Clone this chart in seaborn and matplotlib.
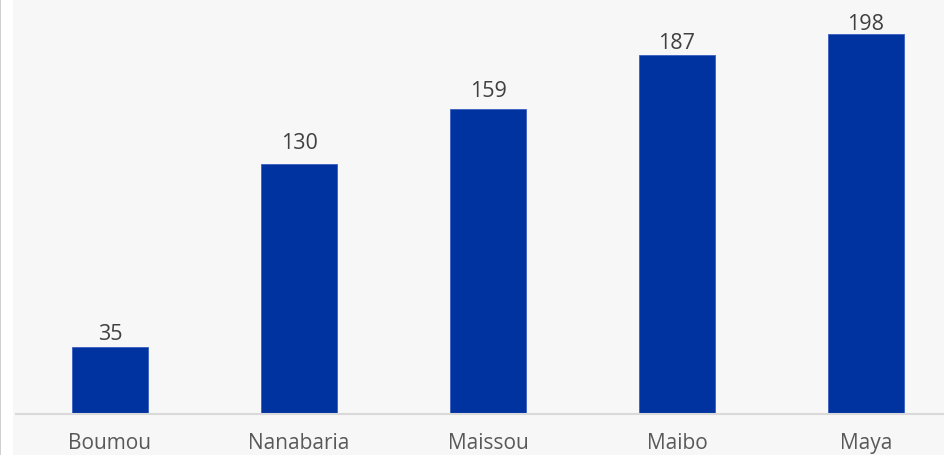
import matplotlib
matplotlib.use("Agg")
import matplotlib.pyplot as plt
import seaborn as sns
import pandas as pd
from matplotlib.patches import Rectangle

categories = ["Boumou", "Nanabaria", "Maissou", "Maibo", "Maya"]
values = [35, 130, 159, 187, 198]
label_lift = [4.0, 8.5, 6.5, 3.5, 2.4]

df = pd.DataFrame({"cat": categories, "val": values})

sns.set_theme(style="white")
plt.rcParams['font.family'] = ['Open Sans', 'DejaVu Sans']

W, H = 945, 456
fig = plt.figure(figsize=(W / 100, H / 100), dpi=100, facecolor="#f7f7f7")
fig.patches.append(Rectangle((0, 0), 13 / W, 1, transform=fig.transFigure,
                             facecolor="white", edgecolor="none", zorder=0))
fig.patches.append(Rectangle((0, 0), 1 / W, 1, transform=fig.transFigure,
                             facecolor="#d0d0d0", edgecolor="none", zorder=0))

left = 15.5 / W
bottom = 41 / H
ax = fig.add_axes([left, bottom, 1 - left, 1 - bottom])
ax.set_facecolor("#f7f7f7")

sns.barplot(data=df, x="cat", y="val", color="#0033a0", saturation=1,
            width=0.40, ax=ax, edgecolor="#3a5fc0", linewidth=0.6)

ax.set_xlim(-0.5, (W - 15.5) / 189 - 0.5)
ax.set_ylim(0, 415 / 1.921)
ax.set_xlabel("")
ax.set_ylabel("")
ax.set_yticks([])
for s in ["top", "right", "left"]:
    ax.spines[s].set_visible(False)
ax.spines["bottom"].set_color("#d9d9d9")
ax.spines["bottom"].set_linewidth(1.5)
ax.tick_params(axis="x", length=0, pad=13, labelsize=15, labelcolor="#595959")

for i, (v, d) in enumerate(zip(values, label_lift)):
    ax.text(i, v + d, str(v), ha="center", va="baseline", fontsize=15.5, color="#404040")

fig.savefig("out.png", dpi=100, facecolor=fig.get_facecolor())
